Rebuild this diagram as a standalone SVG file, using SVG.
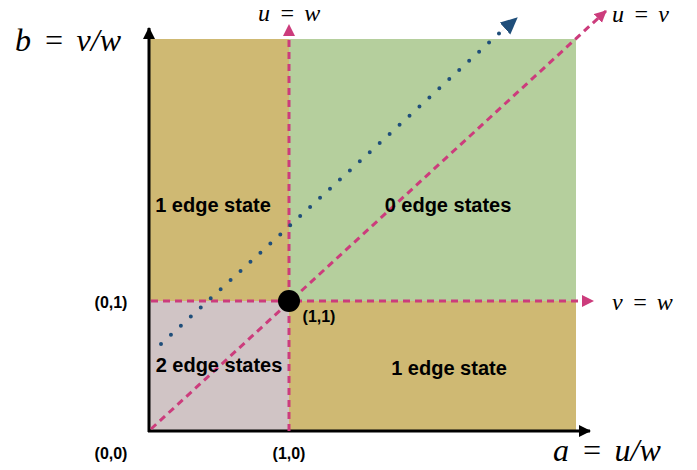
<svg xmlns="http://www.w3.org/2000/svg" width="697" height="470" viewBox="0 0 697 470">
<style>
.lbl{font-family:"Liberation Sans",Arial,sans-serif;font-weight:bold;font-size:20px;fill:#000;text-anchor:middle}
.crd{font-family:"Liberation Sans",Arial,sans-serif;font-weight:bold;font-size:16px;fill:#000;text-anchor:middle}
.math{font-family:"Liberation Serif","Times New Roman",serif;font-style:italic;fill:#000}
.mg{stroke:#CC3C7C;stroke-width:3;fill:none;stroke-dasharray:7 5}
.bl{stroke:#1F4E7A;stroke-width:4;fill:none;stroke-dasharray:0 13.5;stroke-linecap:round}
.ax{stroke:#000;stroke-width:3;fill:none}
</style>
<defs>
<marker id="mh" markerWidth="14" markerHeight="14" refX="11" refY="6" orient="auto" markerUnits="userSpaceOnUse"><path d="M0,0 L12,6 L0,12 Z" fill="#CC3C7C"/></marker>
<marker id="bh" markerWidth="20" markerHeight="20" refX="16" refY="8" orient="auto" markerUnits="userSpaceOnUse"><path d="M0,0 L17,8 L0,16 Z" fill="#1F4E7A"/></marker>
<marker id="kh" markerWidth="14" markerHeight="14" refX="11" refY="6" orient="auto" markerUnits="userSpaceOnUse"><path d="M0,0 L12,6 L0,12 Z" fill="#000"/></marker>
</defs>
<g id="regions">
<rect id="r-tl" x="149" y="39" width="140" height="262" fill="#CFB973"/>
<rect id="r-tr" x="289" y="39" width="287" height="262" fill="#B5CF9D"/>
<rect id="r-bl" x="149" y="301" width="140" height="130" fill="#D0C4C5"/>
<rect id="r-br" x="289" y="301" width="287" height="130" fill="#CFB973"/>
</g>
<g id="connectors">
<line class="ax" x1="149" y1="432" x2="149" y2="28" marker-end="url(#kh)"/>
<line class="ax" x1="148" y1="431" x2="590" y2="431" marker-end="url(#kh)"/>
<line class="mg" x1="289" y1="431" x2="289" y2="25" marker-end="url(#mh)"/>
<line class="mg" x1="151" y1="301" x2="593" y2="301" marker-end="url(#mh)"/>
<line class="mg" x1="151" y1="429" x2="606" y2="11" marker-end="url(#mh)"/>
<line class="bl" x1="161" y1="344" x2="506" y2="27"/>
<line stroke="#1F4E7A" stroke-width="0.1" x1="500" y1="33" x2="517" y2="18" marker-end="url(#bh)"/>
</g>
<g id="origin-point"><circle cx="289" cy="301" r="11" fill="#000"/></g>
<g id="labels">
<text class="lbl" x="213" y="212">1 edge state</text>
<text class="lbl" x="448" y="212">0 edge states</text>
<text class="lbl" x="219" y="372">2 edge states</text>
<text class="lbl" x="449" y="375">1 edge state</text>
<text class="crd" x="111" y="308">(0,1)</text>
<text class="crd" x="111" y="459">(0,0)</text>
<text class="crd" x="289" y="459">(1,0)</text>
<text class="crd" x="319" y="322">(1,1)</text>
<text class="math" x="15" y="51" font-size="32" word-spacing="4">b = v/w</text>
<text class="math" x="258" y="21" font-size="24" word-spacing="3">u = w</text>
<text class="math" x="612" y="22" font-size="24" word-spacing="3">u = v</text>
<text class="math" x="612" y="310" font-size="24" word-spacing="3">v = w</text>
<text class="math" x="553" y="461" font-size="32" word-spacing="4">a = u/w</text>
</g>
</svg>
